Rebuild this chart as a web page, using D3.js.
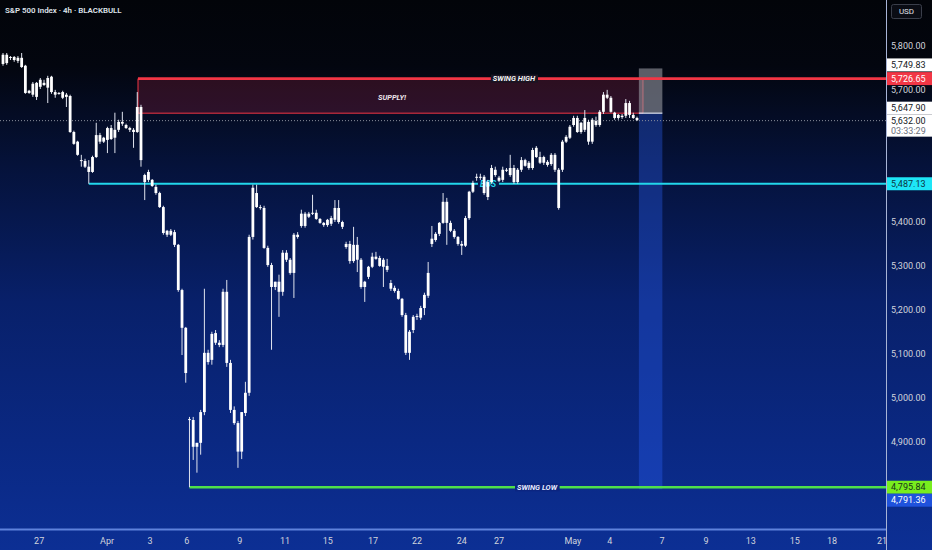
<!DOCTYPE html>
<html><head><meta charset="utf-8">
<script src="https://cdn.jsdelivr.net/npm/d3@7"></script>
<style>html,body{margin:0;padding:0;background:#020409;overflow:hidden}svg{display:block}</style>
</head><body>
<script>
// ---------- DATA ----------
const title = "S&P 500 Index · 4h · BLACKBULL";
const currency = "USD";
// 4h candles [open, high, low, close]
const candles = [
[5760,5785,5756,5781],[5781,5785,5758,5762],[5774,5778,5769,5776],[5776,5778,5765,5769],[5767,5778,5762,5774],
[5774,5785,5751,5753],[5756,5758,5692,5694],[5694,5701,5692,5699],[5690,5719,5685,5715],[5717,5719,5678,5685],
[5708,5728,5703,5724],[5717,5724,5710,5712],[5706,5733,5671,5728],[5731,5733,5692,5696],[5696,5701,5683,5690],
[5694,5696,5690,5692],[5696,5699,5680,5683],[5685,5694,5662,5690],[5687,5690,5603,5605],[5605,5608,5576,5578],
[5583,5585,5551,5553],[5541,5553,5526,5539],[5539,5544,5523,5526],[5526,5541,5487.13,5514],[5514,5551,5512,5548],
[5548,5626,5546,5598],[5598,5603,5578,5583],[5583,5594,5580,5592],[5587,5617,5557,5614],[5614,5621,5587,5589],
[5592,5649,5557,5610],[5610,5633,5605,5628],[5628,5651,5619,5624],[5621,5624,5612,5614],[5614,5617,5605,5610],
[5610,5614,5569,5605],[5605,5696,5603,5662],[5662,5667,5526,5541],[5491,5510,5450,5507],[5514,5519,5491,5496],
[5496,5498,5480,5482],[5480,5485,5462,5466],[5466,5469,5432,5434],[5434,5437,5371,5375],[5380,5382,5366,5371],
[5371,5384,5368,5380],[5377,5382,5343,5348],[5348,5350,5241,5245],[5245,5248,5097,5159],[5159,5161,5034,5056],
[4951,4956,4795.84,4949],[4949,4956,4858,4888],[4888,4897,4829,4897],[4897,4972,4870,4967],[4967,5248,4960,5102],
[5102,5109,5075,5081],[5086,5150,5075,5145],[5147,5154,5120,5125],[5125,5131,5115,5120],[5120,5248,5115,5241],
[5241,5268,5070,5079],[5079,5086,4965,4972],[4972,4980,4938,4942],[4942,4947,4840,4877],[4877,4967,4860,4967],
[4965,5036,4958,5011],[5011,5371,5004,5366],[5366,5485,5360,5478],[5466,5485,5432,5434],[5434,5439,5428,5432],
[5432,5437,5339,5341],[5341,5346,5298,5302],[5302,5307,5109,5252],[5252,5264,5245,5264],[5264,5280,5184,5241],
[5241,5336,5232,5330],[5330,5336,5309,5314],[5314,5318,5280,5284],[5284,5375,5227,5371],[5371,5377,5362,5366],
[5391,5428,5387,5419],[5419,5423,5387,5391],[5412,5423,5409,5419],[5419,5462,5416,5421],[5421,5428,5405,5407],
[5407,5409,5396,5398],[5398,5400,5389,5393],[5393,5407,5389,5405],[5396,5414,5391,5409],[5405,5450,5400,5432],
[5432,5450,5396,5400],[5400,5403,5384,5389],[5350,5355,5339,5343],[5350,5357,5305,5311],[5311,5389,5307,5348],
[5348,5366,5286,5314],[5314,5318,5248,5252],[5252,5266,5218,5264],[5275,5300,5270,5298],[5298,5330,5295,5321],
[5321,5332,5314,5316],[5318,5323,5298,5300],[5314,5318,5252,5298],[5300,5316,5286,5291],[5261,5268,5243,5248],
[5250,5255,5239,5243],[5243,5248,5223,5225],[5225,5227,5184,5188],[5188,5193,5097,5102],[5102,5154,5086,5150],
[5154,5188,5147,5184],[5184,5191,5177,5186],[5182,5209,5177,5204],[5204,5239,5188,5234],[5232,5309,5227,5284],
[5350,5391,5343,5362],[5359,5377,5355,5373],[5373,5400,5368,5398],[5398,5466,5396,5446],[5446,5455,5348,5398],
[5398,5403,5377,5380],[5380,5384,5362,5366],[5366,5368,5346,5350],[5350,5357,5325,5346],[5346,5414,5343,5409],
[5409,5471,5405,5469],[5469,5494,5466,5489],[5501,5510,5494,5503],[5503,5510,5496,5501],[5503,5507,5462,5466],
[5491,5496,5450,5457],[5491,5530,5487,5523],[5519,5526,5503,5507],[5501,5505,5491,5494],[5496,5526,5491,5519],
[5519,5523,5514,5517],[5507,5553,5503,5523],[5523,5530,5487,5491],[5491,5523,5487,5519],[5519,5548,5514,5541],
[5541,5544,5526,5528],[5535,5539,5519,5523],[5523,5569,5519,5564],[5569,5573,5546,5548],[5548,5560,5532,5535],
[5535,5551,5530,5548],[5537,5541,5526,5530],[5532,5557,5528,5553],[5553,5557,5514,5519],[5519,5523,5428,5432],
[5519,5587,5514,5583],[5583,5598,5580,5594],[5592,5621,5589,5617],[5621,5642,5617,5637],[5637,5642,5603,5605],
[5605,5628,5601,5626],[5610,5655,5605,5637],[5628,5633,5576,5583],[5583,5637,5578,5633],[5630,5640,5617,5621],
[5621,5655,5617,5651],[5651,5696,5646,5690],[5690,5701,5680,5683],[5683,5687,5649,5651],[5649,5651,5633,5637],
[5637,5646,5633,5644],[5642,5646,5635,5639],[5642,5680,5637,5671],[5671,5676,5637,5644],[5644,5649,5635,5637],
[5637,5640,5630,5632]
];
const priceTicks = [4800,4900,5000,5100,5200,5300,5400,5500,5600,5700,5800];
const dateLabels = ["27","Apr","3","6","9","11","15","17","22","24","27","May","4","7","9","13","15","18","21"];
const dateBarIndex = [9.7,27.9,39.4,49.3,63.5,75.6,87.1,99.2,111,123,133,152.8,162.7,176.7,188.5,200.5,212.3,222.3,235.7];
// drawn levels / zones (price, starting bar index)
const supplyZone = {top:5726.65, bottom:5647.90, from:36.2, to:171.6, label:"SUPPLY!", lineLabel:"SWING HIGH"};
const bosLine = {price:5487.13, from:23, label:"BOS"};
const swingLowLine = {price:4795.84, from:50, label:"SWING LOW"};
const positionTool = {stop:5749.83, entry:5647.90, target:4791.36, from:170.5, to:176.8};
const lastPrice = 5632.00;
const countdown = "03:33:29";

// ---------- LAYOUT ----------
const W = 932, H = 550, plotR = 886, plotB = 529;
const x = d3.scaleLinear().domain([0, 170]).range([3, 637]);
const y = d3.scaleLinear().domain([4700.7, 5905.7]).range([plotB, 0]);
const fmt = d3.format(",.2f");
const FONT = "Roboto, 'Liberation Sans', sans-serif";

const svg = d3.select("body").append("svg").attr("width", W).attr("height", H)
  .style("font-family", FONT);
const defs = svg.append("defs");
const g = defs.append("linearGradient").attr("id","bg").attr("x1",0).attr("y1",0).attr("x2",0).attr("y2",1);
[[0,"#020409"],[0.12,"#03060f"],[0.3,"#05123a"],[0.55,"#08206a"],[0.8,"#0a2882"],[1,"#0c2f94"]]
  .forEach(([o,c]) => g.append("stop").attr("offset",o).attr("stop-color",c));
defs.append("clipPath").attr("id","plotclip").append("rect").attr("width",plotR).attr("height",plotB);

svg.append("rect").attr("width",W).attr("height",H).attr("fill","url(#bg)");

const plot = svg.append("g").attr("clip-path","url(#plotclip)");

// supply zone
const zx0 = x(supplyZone.from), zx1 = x(supplyZone.to);
plot.append("rect").attr("x",zx0).attr("y",y(supplyZone.top)).attr("width",zx1-zx0)
  .attr("height",y(supplyZone.bottom)-y(supplyZone.top)).attr("fill","rgba(190,40,75,0.22)");
plot.append("path").attr("d",`M${zx0},${y(supplyZone.top)}V${y(supplyZone.bottom)}H${zx1}V${y(supplyZone.top)}`)
  .attr("fill","none").attr("stroke","#f23645").attr("stroke-width",1);

// position tool
const px0 = x(positionTool.from), px1 = x(positionTool.to);
plot.append("rect").attr("x",px0).attr("y",y(positionTool.stop)).attr("width",px1-px0)
  .attr("height",y(positionTool.entry)-y(positionTool.stop)).attr("fill","rgba(150,152,160,0.6)");
plot.append("rect").attr("x",px0).attr("y",y(positionTool.entry)).attr("width",px1-px0)
  .attr("height",y(positionTool.target)-y(positionTool.entry)).attr("fill","rgba(45,100,255,0.34)");
plot.append("line").attr("x1",px0).attr("x2",px1).attr("y1",y(positionTool.entry)).attr("y2",y(positionTool.entry))
  .attr("stroke","#dfe3ee").attr("stroke-width",1.2);

// current price dotted line
plot.append("line").attr("x1",0).attr("x2",plotR).attr("y1",y(lastPrice)+0.5).attr("y2",y(lastPrice)+0.5)
  .attr("stroke","#8a8f9c").attr("stroke-width",1).attr("stroke-dasharray","1,2");

// swing high line
plot.append("line").attr("x1",zx0).attr("x2",plotR).attr("y1",y(supplyZone.top)).attr("y2",y(supplyZone.top))
  .attr("stroke","#f23645").attr("stroke-width",2.6);
// BOS line
plot.append("line").attr("x1",x(bosLine.from)).attr("x2",plotR).attr("y1",y(bosLine.price)).attr("y2",y(bosLine.price))
  .attr("stroke","#22d6ea").attr("stroke-width",2);
// swing low line
plot.append("line").attr("x1",x(swingLowLine.from)).attr("x2",plotR).attr("y1",y(swingLowLine.price)).attr("y2",y(swingLowLine.price))
  .attr("stroke","#4fe04a").attr("stroke-width",2.6);

// line labels
function lineLabel(txt, cx, cy, bg, color, size){
  const t = plot.append("text").attr("x",cx).attr("y",cy).attr("text-anchor","middle")
    .attr("dominant-baseline","central").attr("font-size",size).attr("font-style","italic")
    .attr("font-weight",700).attr("fill",color).text(txt);
  const bb = t.node().getBBox();
  plot.insert("rect", () => t.node()).attr("x",bb.x-2).attr("y",cy-4).attr("width",bb.width+4).attr("height",8).attr("fill",bg);
}
lineLabel(supplyZone.lineLabel, 514, y(supplyZone.top), "#1a1522", "#f4f4f6", 7.5);
lineLabel(swingLowLine.label, 537, y(swingLowLine.price), "#0b2580", "#e8ecff", 7.5);
lineLabel(bosLine.label, 488, y(bosLine.price), "#061a4c", "#22d6ea", 8.5);
plot.append("text").attr("x",392).attr("y",y(5700)+7).attr("text-anchor","middle").attr("dominant-baseline","central")
  .attr("font-size",7.5).attr("font-style","italic").attr("font-weight",700).attr("fill","#ece4ea").text(supplyZone.label);

// candles
const cg = plot.append("g");
candles.forEach(([o,h,l,c], i) => {
  const cx = x(i);
  cg.append("rect").attr("x",cx-0.5).attr("y",y(h)).attr("width",1).attr("height",Math.max(1,y(l)-y(h)))
    .attr("fill","#dfe3ee");
  const top = y(Math.max(o,c)), bot = y(Math.min(o,c));
  cg.append("rect").attr("x",cx-1.4).attr("y",top).attr("width",2.8).attr("height",Math.max(1,bot-top))
    .attr("fill","#ffffff");
});

// title
svg.append("text").attr("x",5).attr("y",10.5).attr("dominant-baseline","central").attr("font-size",7.9)
  .attr("fill","#dfe2ea").attr("font-weight",600).text(title);

// axes lines
svg.append("line").attr("x1",plotR+0.5).attr("x2",plotR+0.5).attr("y1",0).attr("y2",H).attr("stroke","#a8b4d6").attr("stroke-width",1);
svg.append("line").attr("x1",0).attr("x2",plotR).attr("y1",plotB+0.5).attr("y2",plotB+0.5).attr("stroke","#5f82dc").attr("stroke-width",2);

// currency box
svg.append("rect").attr("x",891.5).attr("y",4.5).attr("width",30).attr("height",14).attr("rx",2)
  .attr("fill","#0a0c14").attr("stroke","#3a3e4a");
svg.append("text").attr("x",906.5).attr("y",11.5).attr("text-anchor","middle").attr("dominant-baseline","central")
  .attr("font-size",8).attr("fill","#e0e3ea").text(currency);

// price labels (boxes) — layout: each has a pixel nudge and height
const boxes = [
  {v:positionTool.stop, bg:"#ffffff", fg:"#131722", dy:-3.5},
  {v:supplyZone.top, bg:"#f23645", fg:"#ffffff", dy:0},
  {v:positionTool.entry, bg:"#ffffff", fg:"#131722", dy:-5},
  {v:lastPrice, bg:"#ffffff", fg:"#131722", dy:1, extra:countdown},
  {v:bosLine.price, bg:"#1ee6f7", fg:"#0d3340", dy:0},
  {v:swingLowLine.price, bg:"#78ee1e", fg:"#16331a", dy:0},
  {v:positionTool.target, bg:"#1f52dc", fg:"#ffffff", dy:11}
].map(b => { const cy = y(b.v) + b.dy; return {...b, cy, top: cy-6.5, bot: cy-6.5 + (b.extra ? 22 : 13)}; });

// price ticks (hidden where a price label box covers them, as on the source)
const axisG = svg.append("g");
priceTicks.filter(v => !boxes.some(b => y(v) > b.top - 5 && y(v) < b.bot + 5)).forEach(v => {
  axisG.append("text").attr("x",891).attr("y",y(v)).attr("dominant-baseline","central")
    .attr("font-size",9).attr("fill","#d1d4dc").text(fmt(v));
});

boxes.forEach(b => {
  svg.append("rect").attr("x",887).attr("y",b.top).attr("width",W-887).attr("height",b.bot-b.top).attr("fill",b.bg);
  svg.append("text").attr("x",891).attr("y",b.cy).attr("dominant-baseline","central").attr("font-size",9)
    .attr("fill",b.fg).text(fmt(b.v));
  if (b.extra) svg.append("text").attr("x",891).attr("y",b.cy+10).attr("dominant-baseline","central").attr("font-size",9)
    .attr("fill","#6b6f7c").text(b.extra);
});

// date axis
defs.append("clipPath").attr("id","dateclip").append("rect").attr("x",0).attr("y",plotB).attr("width",plotR).attr("height",H-plotB);
const dg = svg.append("g").attr("clip-path","url(#dateclip)");
dateLabels.forEach((d,i) => {
  dg.append("text").attr("x",x(dateBarIndex[i])).attr("y",541).attr("text-anchor","middle")
    .attr("dominant-baseline","central").attr("font-size",9).attr("fill","#d1d4dc").text(d);
});
</script>
</body></html>
